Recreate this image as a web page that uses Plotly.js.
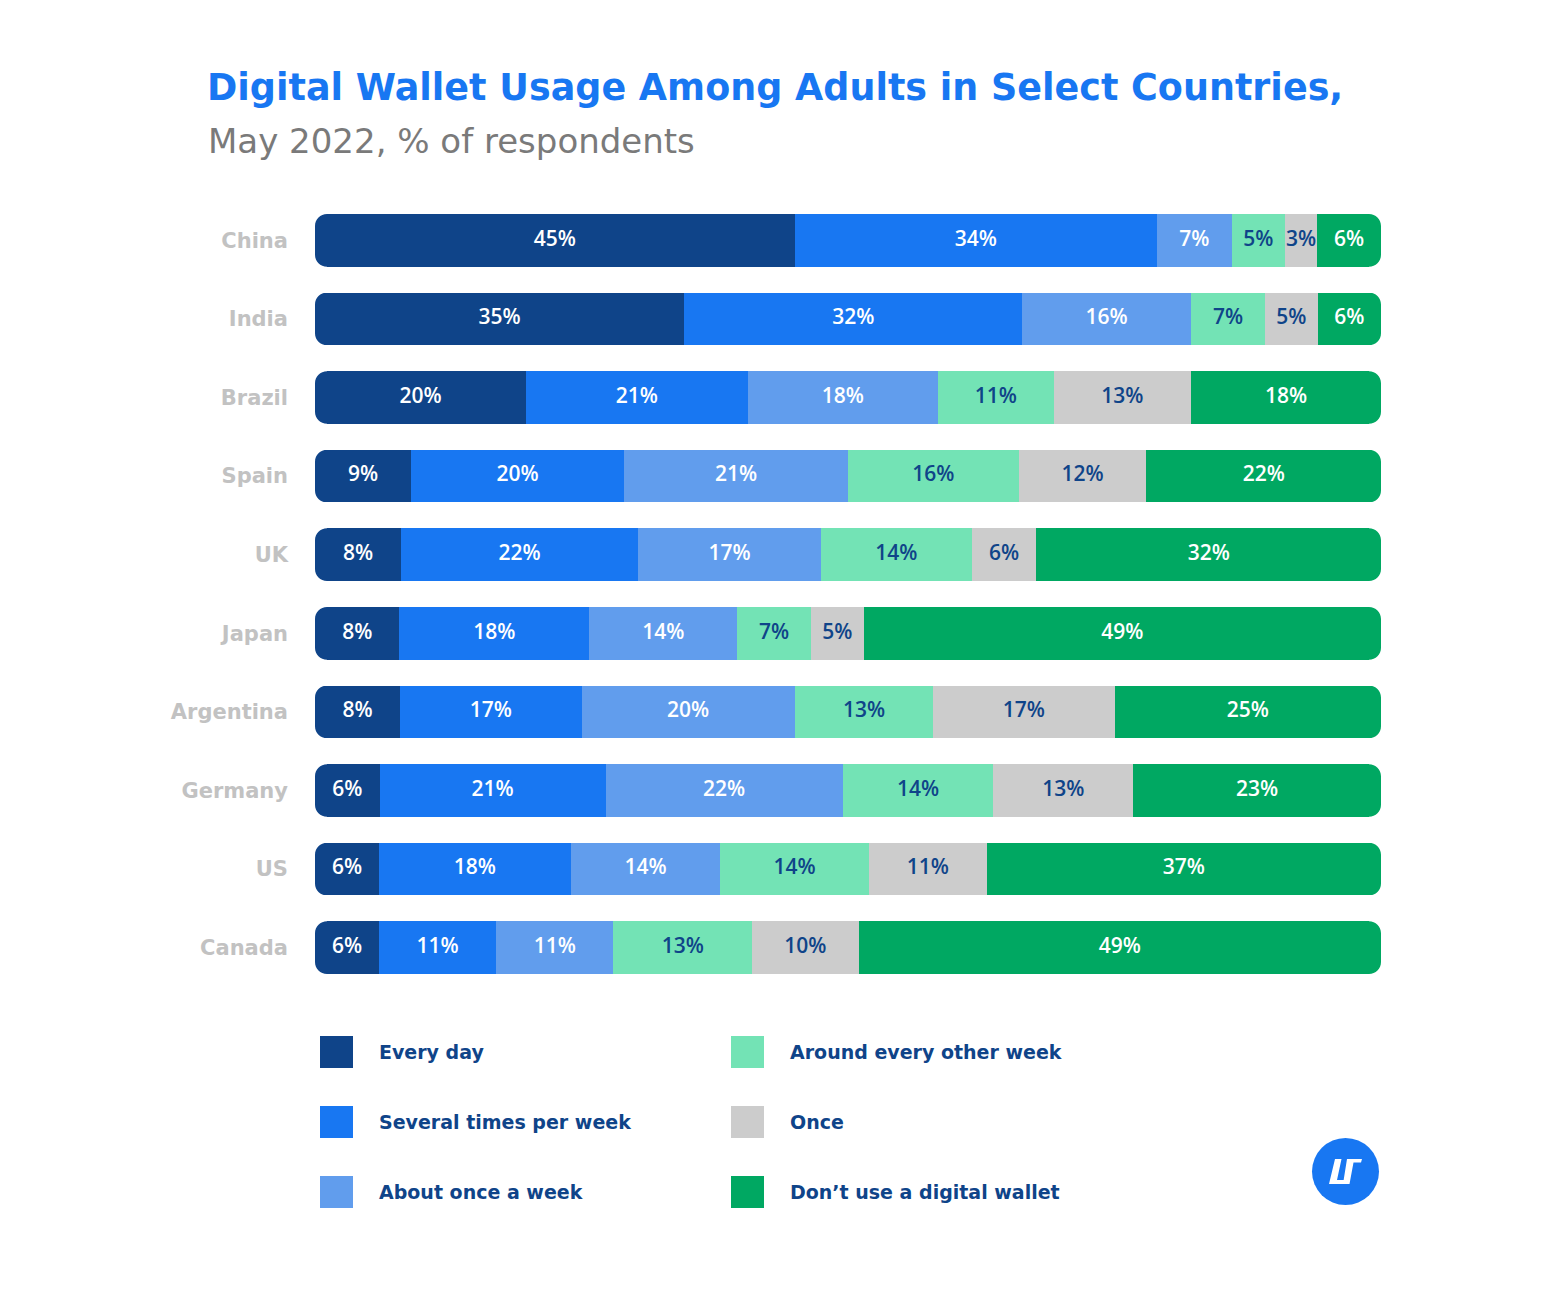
<!DOCTYPE html>
<html>
<head>
<meta charset="utf-8">
<script src="https://cdn.plot.ly/plotly-3.0.1.min.js"></script>
<style>html,body{margin:0;padding:0;background:#fff;}#chart{width:1550px;height:1314px;}</style>
</head>
<body>
<div id="chart"></div>
<script>
// ---- DATA ----
var countries = ["China","India","Brazil","Spain","UK","Japan","Argentina","Germany","US","Canada"];
var seriesNames = ["Every day","Several times per week","About once a week","Around every other week","Once","Don\u2019t use a digital wallet"];
var everyDay   = [45,35,20, 9, 8, 8, 8, 6, 6, 6];
var severalWk  = [34,32,21,20,22,18,17,21,18,11];
var onceWeek   = [ 7,16,18,21,17,14,20,22,14,11];
var otherWeek  = [ 5, 7,11,16,14, 7,13,14,14,13];
var onceOnly   = [ 3, 5,13,12, 6, 5,17,13,11,10];
var dontUse    = [ 6, 6,18,22,32,49,25,23,37,49];
var titleText = "Digital Wallet Usage Among Adults in Select Countries,";
var subtitleText = "May 2022, % of respondents";

// ---- STYLE ----
var colors = ["#0f4489","#1877f2","#619ded","#73e3b5","#cccccc","#00a862"];
var textColors = ["#ffffff","#ffffff","#ffffff","#0f4489","#0f4489","#ffffff"];
var FONT = "DejaVu Sans, sans-serif";
var VFONT = "Open Sans, sans-serif";
var W = 1550, H = 1314, L = 315, R = 169, T = 201, B = 327;
var PW = W - L - R, PH = H - T - B;
var BARGAP = 0.33, RADIUS = 12;
function px(x){ return (x - L) / PW; }
function py(y){ return (H - B - y) / PH; }

var series = [everyDay, severalWk, onceWeek, otherWeek, onceOnly, dontUse];
var n = series.length;
var totals = countries.map(function(c, i){
  return series.reduce(function(s, arr){ return s + arr[i]; }, 0);
});
// normalised widths and starts (each bar spans 100%)
var widths = series.map(function(arr){
  return arr.map(function(v, i){ return v / totals[i] * 100; });
});
var starts = [];
var cum = countries.map(function(){ return 0; });
widths.forEach(function(w){
  starts.push(cum.slice());
  cum = cum.map(function(c, i){ return c + w[i]; });
});

var traces = [];
series.forEach(function(arr, k){
  traces.push({
    type: "bar", orientation: "h", y: countries, x: widths[k],
    name: seriesNames[k], marker: {color: colors[k], line: {width: 0}},
    hoverinfo: "skip", showlegend: false
  });
});
// value labels
series.forEach(function(arr, k){
  traces.push({
    type: "scatter", mode: "text", y: countries,
    x: starts[k].map(function(s, i){ return s + widths[k][i] / 2; }),
    text: arr.map(function(v){ return v + "%"; }),
    textposition: "middle center",
    textfont: {family: VFONT, size: 21, color: textColors[k], weight: 600},
    hoverinfo: "skip", showlegend: false, cliponaxis: false
  });
});

var shapes = [], annotations = [];
function pathFrom(pts){
  return "M" + pts.map(function(p){ return px(p[0]) + "," + py(p[1]); }).join(" L") + " Z";
}
// white corner masks giving the bars rounded ends
var rowH = PH / countries.length, halfBar = rowH * (1 - BARGAP) / 2, KAPPA = 0.5523;
function cornerMask(cx, cy, sx, sy){
  // (cx,cy) = corner pixel, sx/sy = direction pointing into the bar
  var r = RADIUS, e = 1.5;
  var p = function(a, b){ return px(cx + sx * a) + "," + py(cy + sy * b); };
  return "M" + p(-e, -e) + " L" + p(r, -e) + " L" + p(r, 0) +
         " C" + p(r * (1 - KAPPA), 0) + " " + p(0, r * (1 - KAPPA)) + " " + p(0, r) +
         " L" + p(-e, r) + " Z";
}
countries.forEach(function(c, i){
  var yc = T + (i + 0.5) * rowH, yt = yc - halfBar, yb = yc + halfBar;
  [[L, yt, 1, 1], [L, yb, 1, -1], [W - R, yt, -1, 1], [W - R, yb, -1, -1]].forEach(function(q){
    shapes.push({type: "path", xref: "paper", yref: "paper", fillcolor: "#ffffff",
      line: {width: 0}, layer: "above", path: cornerMask(q[0], q[1], q[2], q[3])});
  });
});

// custom legend (column-major, 2 columns x 3 rows)
var colX = [320, 731], rowY = [1052, 1122, 1192];
seriesNames.forEach(function(nm, k){
  var c = Math.floor(k / 3), r = k % 3;
  shapes.push({type: "rect", xref: "paper", yref: "paper",
    x0: px(colX[c]), x1: px(colX[c] + 33), y0: py(rowY[r] + 16), y1: py(rowY[r] - 16),
    fillcolor: colors[k], line: {width: 0}, layer: "above"});
  annotations.push({xref: "paper", yref: "paper", x: px(colX[c] + 57), y: py(rowY[r]),
    xanchor: "left", yanchor: "middle", showarrow: false, text: nm,
    font: {family: FONT, size: 19, color: "#0f4489", weight: 700}});
});

// subtitle
annotations.push({xref: "paper", yref: "paper", x: px(206), y: py(141),
  xanchor: "left", yanchor: "middle", showarrow: false, text: subtitleText,
  font: {family: FONT, size: 34, color: "#7a7a7a"}});

// logo
shapes.push({type: "circle", xref: "paper", yref: "paper",
  x0: px(1312), x1: px(1379), y0: py(1205), y1: py(1138),
  fillcolor: "#1877f2", line: {width: 0}});
shapes.push({type: "path", xref: "paper", yref: "paper", fillcolor: "#ffffff", line: {width: 0},
  path: pathFrom([[1335,1159],[1341.5,1159],[1337,1180],[1346.5,1180],[1345.5,1184],[1329,1184]])});
shapes.push({type: "path", xref: "paper", yref: "paper", fillcolor: "#ffffff", line: {width: 0},
  path: pathFrom([[1347,1159],[1362,1159],[1361,1162.5],[1353.5,1162.5],[1349.5,1184],[1343,1184]])});

var layout = {
  width: W, height: H,
  margin: {l: L, r: R, t: T, b: B},
  paper_bgcolor: "#ffffff", plot_bgcolor: "#ffffff",
  barmode: "stack", bargap: BARGAP,
  font: {family: FONT},
  title: {text: titleText, xref: "container", yref: "container",
    x: 207 / W, xanchor: "left", y: 1 - 87 / H, yanchor: "middle",
    font: {family: FONT, size: 36.5, color: "#1877f2", weight: 700}},
  xaxis: {range: [0, 100], visible: false, fixedrange: true},
  yaxis: {type: "category", categoryorder: "array", categoryarray: countries,
    autorange: "reversed", showgrid: false, zeroline: false, showline: false,
    ticks: "", ticklabelstandoff: 26,
    tickfont: {family: FONT, size: 21, color: "#c2c2c2", weight: 700}},
  shapes: shapes,
  annotations: annotations,
  showlegend: false
};

Plotly.newPlot("chart", traces, layout, {displayModeBar: false, staticPlot: true});
</script>
</body>
</html>
